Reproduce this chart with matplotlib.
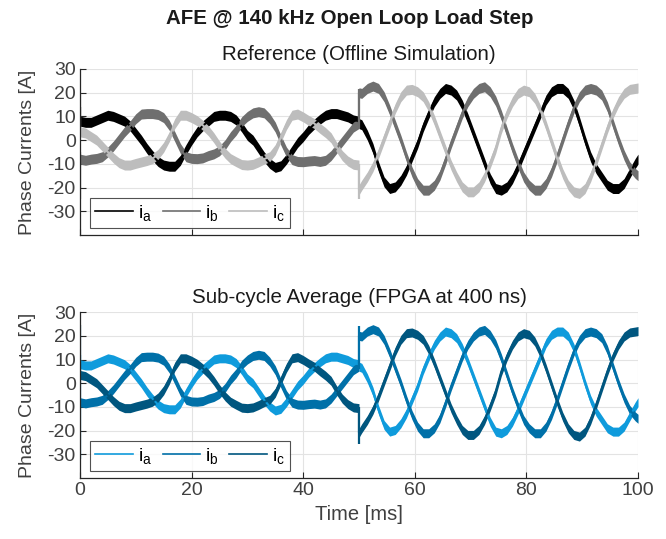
import numpy as np
import matplotlib
matplotlib.use("Agg")
import matplotlib.pyplot as plt
from matplotlib.lines import Line2D

# ---------------- data ----------------
t_pre = list(range(0, 51))
ia_pre = [8, 7.5, 7.5, 8.5, 9.5, 10.5, 10, 9, 8, 6, 3,
          0, -3.5, -6.5, -9, -10.5, -11, -11, -8.5, -4, 0,
          3.5, 6, 8, 10, 10.5, 10.5, 10, 8.5, 5.5, 2,
          0, -3.5, -7, -9.8, -11.5, -10.8, -8, -4.5, -1, 1.5,
          4.5, 6.8, 8.8, 10.5, 11.2, 11.2, 10.5, 9.8, 8.5, 8]
ib_pre = [-8, -8.5, -8, -7.7, -7, -5, -2.5, 0.5, 3.5, 6, 9,
          11, 11.2, 11.2, 10.8, 9.5, 6.3, 1.5, -3.5, -7, -7.7,
          -7.8, -7.5, -6.5, -5.8, -4.5, -2, 1.5, 4.2, 7.8, 10,
          11.5, 12, 11.5, 9.1, 5.5, 0, -5, -8.2, -9, -9.1,
          -8.8, -8.6, -9, -8.5, -6.5, -3.5, -0.5, 2.5, 5.5, 7]
ic_pre = [3.5, 3, 1.5, 0, -2.5, -5, -7.5, -9.5, -10.5, -10.5, -9.8,
          -9.2, -8.6, -7.8, -6, -3, 1.4, 7, 10.5, 10.5, 9.5,
          8.2, 6.3, 4, 1, -2.5, -5.5, -7.8, -9.1, -10.3, -10.5,
          -10.2, -9.2, -8, -7, -4, 1.2, 6.5, 10.5, 11, 9.8,
          8.3, 7, 5, 3.2, 1, -3, -6.5, -8.8, -10.2, -10.5]

t_post = [50] + [50.5 + k for k in range(50)] + [100]
ia_post = [7,
           6.5, 2.1, -3.5, -11.2, -17.6, -20.4, -19.7, -16.9, -12.7, -7,
           -1.4, 5.6, 11.2, 16.2, 19.7, 21.8, 21.1, 19, 14.8, 9.1,
           2.8, -3.5, -9.8, -16.2, -20.4, -21.1, -19.7, -16.2, -11.2, -5.6,
           0, 5.6, 11.2, 16.9, 20.4, 21.8, 21.8, 19.7, 14.8, 7.7,
           0, -7, -12, -15.5, -19, -20.4, -20.4, -18.3, -14, -9.8,
           -8]
ib_post = [20,
           19.7, 21.8, 22.8, 21.8, 18.3, 12.7, 6.3, 0, -7, -13.4,
           -18.3, -21.1, -21.1, -19, -14.8, -8.4, -1.4, 4.9, 11.2, 16.2,
           19.7, 21.8, 22.5, 20.4, 16.5, 10.5, 3.5, -3.5, -9.8, -15.5,
           -19, -21.1, -21.1, -18.3, -13.4, -7, 0, 7, 13.4, 18.3,
           21.1, 21.8, 21.1, 19, 14.1, 7, 0, -6.3, -11.2, -14,
           -15]
ic_post = [-21,
           -19, -15.5, -11.2, -5.6, 0.7, 7, 13.4, 18.3, 21.1, 21.4,
           20.4, 18.3, 14.1, 8.4, 2.1, -4.2, -10.5, -15.5, -19.7, -21.8,
           -21.8, -19.7, -15.5, -9.8, -3.5, 4.9, 11.2, 16.2, 19.7, 21.1,
           20.4, 17.6, 12.7, 6.3, -0.7, -7.7, -14.1, -19, -21.8, -22.5,
           -20.4, -15.5, -9.1, -2.1, 4.9, 11.2, 16.2, 19.7, 21.4, 21.8,
           22]

# start-up / load-step transients: (time, low, high) per phase
top_spikes = {"a": [(0.1, 5, 14)], "b": [(0.1, -25, -5), (50, 5, 21.5)],
              "c": [(0.1, 2, 20), (50, -25, -10)]}
bot_spikes = {"a": [(0.1, 4, 12)], "b": [(0.1, -32, 0), (50, 6, 24)],
              "c": [(0.1, 0, 24.5), (50, -25.5, -10)]}

labels = ["a", "b", "c"]
top_colors = ["#000000", "#6f6f6f", "#bdbdbd"]
bot_colors = ["#0f9bdc", "#0070a8", "#00567f"]

xticks = [0, 20, 40, 60, 80, 100]
yticks = [-30, -20, -10, 0, 10, 20, 30]

# ---------------- plotting ----------------
plt.rcParams["font.family"] = ["Liberation Sans", "DejaVu Sans"]
plt.rcParams["mathtext.fontset"] = "custom"
plt.rcParams["mathtext.rm"] = "Liberation Sans"
plt.rcParams["mathtext.it"] = "Liberation Sans:italic"
plt.rcParams["axes.unicode_minus"] = False

t = np.array(t_pre + t_post, dtype=float)
series = [np.array(ia_pre + ia_post), np.array(ib_pre + ib_post),
          np.array(ic_pre + ic_post)]

fig = plt.figure(figsize=(6.66, 5.39), dpi=100)
ax1 = fig.add_axes([0.120, 0.564, 0.838, 0.308])
ax2 = fig.add_axes([0.120, 0.113, 0.838, 0.308])

def draw(ax, colors, spikes, hw, title):
    for lab, v, c in zip(labels, series, colors):
        ax.fill_between(t, v - hw, v + hw, color=c, lw=0)
        ax.plot(t, v, color=c, lw=1.5)
        for (ts, lo, hi) in spikes[lab]:
            ax.vlines(ts, lo, hi, color=c, lw=1.6)
    ax.set_xlim(0, 100)
    ax.set_ylim(-40, 30)
    ax.set_xticks(xticks)
    ax.set_yticks(yticks)
    ax.grid(True, color="#e3e3e3", lw=0.8)
    ax.set_axisbelow(True)
    for s in ["top", "right"]:
        ax.spines[s].set_visible(False)
    for s in ["left", "bottom"]:
        ax.spines[s].set_color("#262626")
        ax.spines[s].set_linewidth(0.9)
    ax.tick_params(direction="in", length=4, width=0.8, colors="#262626",
                   labelcolor="#404040", labelsize=14, pad=3)
    ax.set_ylabel("Phase Currents [A]", fontsize=14, color="#404040")
    ax.yaxis.set_label_coords(-0.079, 0.5)
    ax.set_title(title, fontsize=14.8, color="#1a1a1a", pad=6.5)
    handles = [Line2D([], [], color=c, lw=1.2) for c in colors]
    leg = ax.legend(handles, [r"i$_\mathrm{%s}$" % l for l in labels],
                    loc="lower left", bbox_to_anchor=(0.018, 0.045),
                    borderaxespad=0, ncol=3, fontsize=14, frameon=True,
                    fancybox=False, edgecolor="#262626", handlelength=1.95,
                    columnspacing=0.55, handletextpad=0.25,
                    borderpad=0.25)
    leg.get_frame().set_linewidth(0.8)

draw(ax1, top_colors, top_spikes, 2.1, "Reference (Offline Simulation)")
draw(ax2, bot_colors, bot_spikes, 1.9, "Sub-cycle Average (FPGA at 400 ns)")
ax1.tick_params(labelbottom=False)
ax2.set_xlabel("Time [ms]", fontsize=14.5, color="#404040", labelpad=4)

fig.text(0.525, 0.966, "AFE @ 140 kHz Open Loop Load Step", ha="center",
         va="center", fontsize=14.8, fontweight="bold", color="#1a1a1a")

fig.savefig("out.png", dpi=100)
